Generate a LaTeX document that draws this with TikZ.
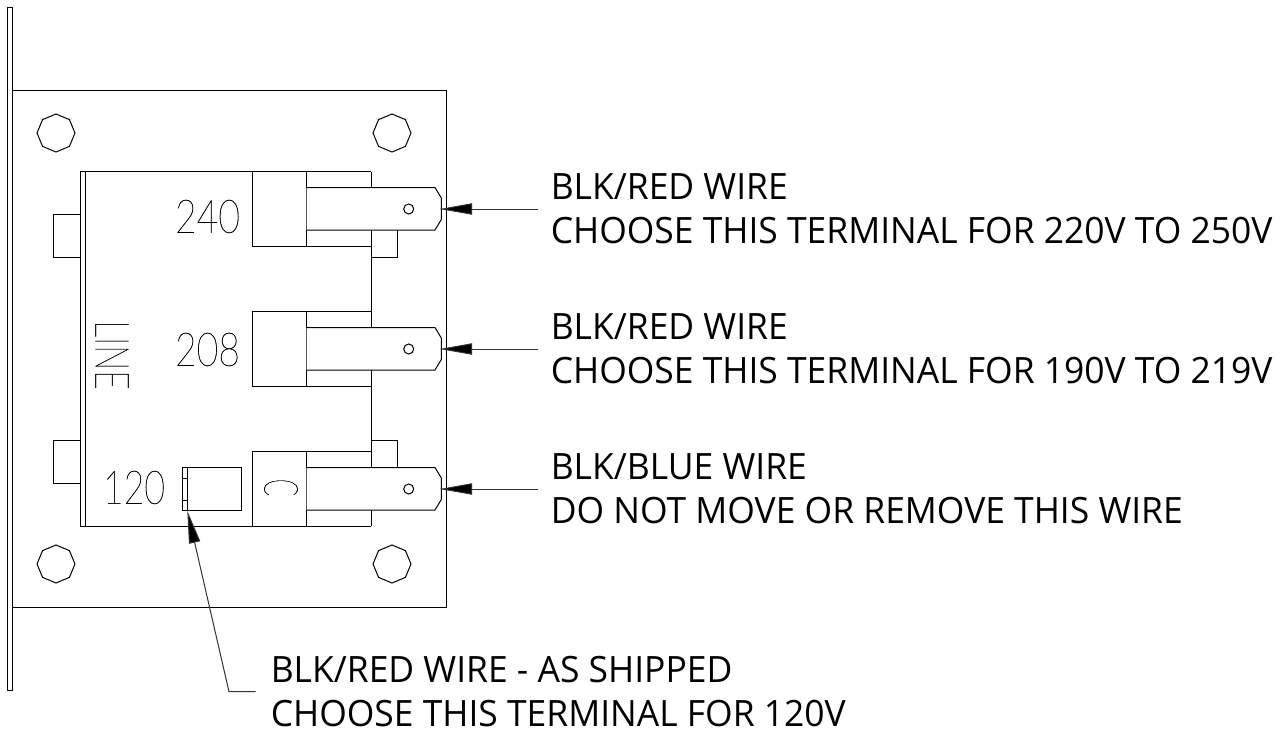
\documentclass[tikz,border=0pt]{standalone}
\usepackage{fontspec}
\usepackage{graphicx}
\setmainfont{Open Sans}
\newfontfamily\cadfont[AutoFakeBold=0.5]{Lato Hairline}
\usetikzlibrary{arrows.meta}
\newcommand{\nar}[1]{\scalebox{0.977}[1]{#1}}
\tikzset{
  x=0.75pt,y=-0.75pt,
  ln/.style={draw=black,line width=0.75pt,line join=miter},
  leader/.style={draw=black!80,line width=0.75pt,-{Triangle[length=24.5pt,width=8.5pt,fill=black]}},
  lab/.style={anchor=base west,inner sep=0pt,font=\fontsize{27.2pt}{27.2pt}\selectfont},
  cad/.style={inner sep=0pt,font=\cadfont\bfseries\fontsize{33pt}{33pt}\selectfont},
}
\begin{document}
\begin{tikzpicture}
\useasboundingbox (0,0) rectangle (1283,732);
% flange
\draw[ln] (7.5,7) rectangle (12.5,690);
% plate
\draw[ln] (12.5,90.5) -- (446.5,90.5) -- (446.5,607) -- (12.5,607);
% bolts
\foreach \cx/\cy in {56/133,392/133,56/564,392/564}
  \draw[ln] (\cx+19,\cy) -- (\cx+13.4,\cy+13.4) -- (\cx,\cy+19) -- (\cx-13.4,\cy+13.4) -- (\cx-19,\cy) -- (\cx-13.4,\cy-13.4) -- (\cx,\cy-19) -- (\cx+13.4,\cy-13.4) -- cycle;
% switch body
\draw[ln] (371,171.5) -- (80,171.5) -- (80,526) -- (371,526);
\draw[ln] (85.5,171.5) -- (85.5,526);
\draw[ln] (371,171.5) -- (371,187.5) (371,230) -- (371,327.5) (371,370) -- (371,467.5) (371,510) -- (371,526);
% side lugs
\draw[ln] (80,214.5) -- (53.5,214.5) -- (53.5,257.5) -- (80,257.5);
\draw[ln] (80,440.5) -- (53.5,440.5) -- (53.5,483.5) -- (80,483.5);
% blocks
\foreach \t in {171.5,311.5,451.5}
  \draw[ln] (252.5,\t) rectangle (306.5,\t+75) (306.5,\t+75) -- (371,\t+75) (306.5,\t) -- (371,\t);
% tabs
\foreach \t in {187.5,327.5,467.5}{
  \draw[ln,fill=white] (306.5,\t) -- (435,\t) -- (441.3,\t+10.5) -- (441.3,\t+32) -- (435,\t+42.5) -- (306.5,\t+42.5);
  \draw[ln] (408.7,\t+21.5) circle (5);
}
% small boxes
\draw[ln] (371,230) -- (371,257.5) -- (397.7,257.5) -- (397.7,230);
\draw[ln] (371,467.5) -- (371,440.5) -- (397.7,440.5) -- (397.7,467.5);
% 120 clip
\draw[ln] (182.7,467.5) rectangle (241.7,510.5);
\draw[ln] (187.5,467.5) -- (187.5,510.5);
\draw[ln] (182.7,478.7) -- (187.5,478.7) (182.7,500) -- (187.5,500);
% CAD text
\node[cad] (n240) at (207.5,216.5) {\resizebox{48.75pt}{24.75pt}{240}};
\node[cad] (n208) at (207.5,349.5) {\resizebox{48.75pt}{24.75pt}{208}};
\node[cad] (n120) at (134,487.5) {\resizebox{46.5pt}{24.75pt}{120}};
\node[cad,rotate=-90] (nline) at (112,355) {\resizebox{52pt}{24.75pt}{LINE}};
\node[cad,rotate=-90] (nc) at (281,487.5) {\resizebox{13pt}{25pt}{C}};
% labels
\node[lab] (l1a) at (550.5,199.3) {\nar{BLK/RED WIRE}};
\node[lab] (l1b) at (550.5,243.3) {\nar{CHOOSE THIS TERMINAL FOR 220V TO 250V}};
\node[lab] (l2a) at (550.5,339.3) {\nar{BLK/RED WIRE}};
\node[lab] (l2b) at (550.5,383.3) {\nar{CHOOSE THIS TERMINAL FOR 190V TO 219V}};
\node[lab] (l3a) at (550.5,479.3) {\nar{BLK/BLUE WIRE}};
\node[lab] (l3b) at (550.5,523.3) {\nar{DO NOT MOVE OR REMOVE THIS WIRE}};
\node[lab] (l4a) at (270.5,682.3) {\nar{BLK/RED WIRE - AS SHIPPED}};
\node[lab] (l4b) at (270.5,726.3) {\nar{CHOOSE THIS TERMINAL FOR 120V}};
% leaders
\coordinate (s1) at (538,209); \coordinate (t1) at (439.5,209);
\coordinate (s2) at (538,349); \coordinate (t2) at (439.5,349);
\coordinate (s3) at (538,489); \coordinate (t3) at (439.5,489);
\coordinate (s4) at (255.5,691.7); \coordinate (k4) at (229,691.7); \coordinate (t4) at (187.3,510.7);
\draw[leader] (s1) -- (t1);
\draw[leader] (s2) -- (t2);
\draw[leader] (s3) -- (t3);
\draw[leader] (s4) -- (k4) -- (t4);
\end{tikzpicture}
\end{document}
